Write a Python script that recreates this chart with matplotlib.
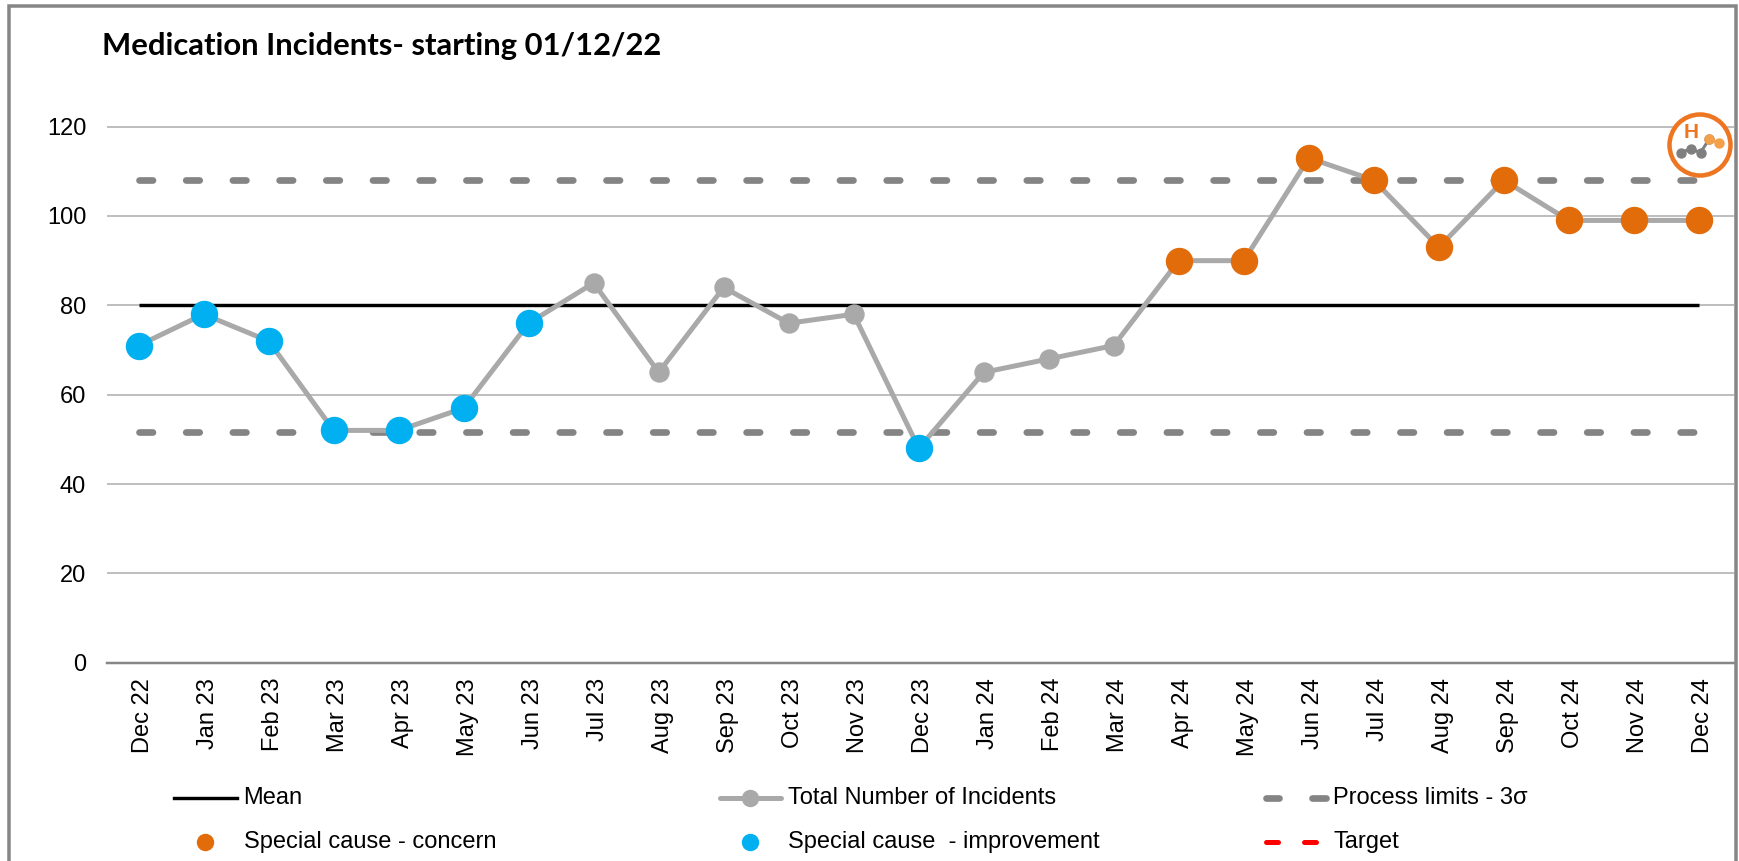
import matplotlib
matplotlib.use("Agg")
import matplotlib.pyplot as plt
from matplotlib.transforms import ScaledTranslation
import numpy as np

plt.rcParams['font.family'] = ['Liberation Sans', 'DejaVu Sans']
plt.rcParams['lines.scale_dashes'] = False

months = ['Dec 22','Jan 23','Feb 23','Mar 23','Apr 23','May 23','Jun 23','Jul 23','Aug 23','Sep 23',
          'Oct 23','Nov 23','Dec 23','Jan 24','Feb 24','Mar 24','Apr 24','May 24','Jun 24','Jul 24',
          'Aug 24','Sep 24','Oct 24','Nov 24','Dec 24']
incidents = [71,78,72,52,52,57,76,85,65,84,76,78,48,65,68,71,90,90,113,108,93,108,99,99,99]
improvement = ['Dec 22','Jan 23','Feb 23','Mar 23','Apr 23','May 23','Jun 23','Dec 23']
concern = ['Apr 24','May 24','Jun 24','Jul 24','Aug 24','Sep 24','Oct 24','Nov 24','Dec 24']
mean = 80
upper_limit = 108
lower_limit = 51.6
yticks = [0,20,40,60,80,100,120]

W, H = 1739, 861
px = 0.72  # one pixel in points at dpi 100
GREY_LINE = '#A9A9A9'
LIMIT = '#848484'
ORANGE = '#E36C0A'
BLUE = '#00B0F0'
limit_dash = (0, (13.5*px, 33.2*px))

fig = plt.figure(figsize=(W/100, H/100), dpi=100)

# main chart, placed in pixels
left, right, top, bottom = 107, 1734, 104.3, 662.7
ax = fig.add_axes([left/W, 1-bottom/H, (right-left)/W, (bottom-top)/H])
x = np.arange(len(months))
ax.plot(x, [mean]*len(x), color='black', lw=3.4*px, zorder=3, solid_capstyle='butt')
for lim in [upper_limit, lower_limit]:
    ax.plot(x, [lim]*len(x), color=LIMIT, lw=6.7*px, linestyle=limit_dash, dash_capstyle='round', zorder=2)
ax.plot(x, incidents, color=GREY_LINE, lw=5*px, marker='o', ms=19*px, zorder=4, solid_joinstyle='round')
for names, col in [(improvement, BLUE), (concern, ORANGE)]:
    idx = [months.index(n) for n in names]
    ax.plot(idx, [incidents[i] for i in idx], ls='none', marker='o', ms=26*px, color=col, zorder=5)

ax.set_xlim(-0.486, 24.54)
ax.set_ylim(0, 125)
ax.set_xticks(x)
ax.set_xticklabels(months, rotation=90, fontsize=17, color='black')
ax.set_yticks(yticks)
ax.tick_params(axis='y', length=0, pad=15, labelsize=17)
ax.tick_params(axis='x', length=0, pad=11)
# labels sit a little right of the tick in the original
shift = ScaledTranslation(4.5/100, 0, fig.dpi_scale_trans)
for lab in ax.get_xticklabels():
    lab.set_transform(lab.get_transform() + shift)
ax.grid(axis='y', color='#BFBFBF', lw=2*px)
ax.set_axisbelow(True)
for s in ['top','right','left']:
    ax.spines[s].set_visible(False)
ax.spines['bottom'].set_color('#868686')
ax.spines['bottom'].set_linewidth(2.5*px)

# overlay in pixel coordinates for frame, title, legend and badge
ov = fig.add_axes([0,0,1,1], facecolor='none')
ov.set_xlim(0, W)
ov.set_ylim(H, 0)
ov.axis('off')

ov.plot([9,9,1736,1736], [H,5.5,5.5,H], color='#868686', lw=3.5*px, solid_joinstyle='miter')
ov.text(102, 46, 'Medication Incidents- starting 01/12/22', family='Lato', fontweight='bold',
        fontsize=22.3, va='center', ha='left', color='black')

row1, row2 = 798, 842
fs = 17
ov.plot([174,237], [row1,row1], color='black', lw=3.4*px)
ov.text(243, row1, 'Mean', fontsize=fs, va='center')
ov.plot([205], [row2], 'o', color=ORANGE, ms=16*px)
ov.text(244, row2, 'Special cause - concern', fontsize=fs, va='center')
ov.plot([720,781], [row1,row1], color=GREY_LINE, lw=5*px, marker='none', solid_capstyle='round')
ov.plot([750], [row1], 'o', color=GREY_LINE, ms=16*px)
ov.text(788, row1, 'Total Number of Incidents', fontsize=fs, va='center')
ov.plot([750], [row2], 'o', color=BLUE, ms=16*px)
ov.text(788, row2, 'Special cause  - improvement', fontsize=fs, va='center')
for a, b in [(1266,1279), (1312,1326)]:
    ov.plot([a,b], [row1,row1], color=LIMIT, lw=6.7*px, solid_capstyle='round')
ov.text(1333, row1, 'Process limits - 3σ', fontsize=fs, va='center')
for a, b in [(1266,1278), (1304,1316)]:
    ov.plot([a,b], [row2,row2], color='#FF0000', lw=5*px, solid_capstyle='round')
ov.text(1334, row2, 'Target', fontsize=fs, va='center')

# H badge
ov.add_patch(plt.Circle((1700,145), 30.5, facecolor='white', edgecolor='#EE7623', lw=4.5*px, zorder=6))
ov.text(1691, 133, 'H', color='#EE7623', fontsize=15, fontweight='bold', ha='center', va='center', zorder=7)
ov.plot([1680.5,1691,1700.5,1709], [152.7,148.7,152.7,139.3], color='#7F7F7F', lw=3*px, marker='o', ms=9*px, zorder=7)
ov.plot([1709,1719], [139.3,142.7], color='#F4A04A', lw=3*px, marker='o', ms=9*px, zorder=8)

fig.savefig('out.png', dpi=100, facecolor='white')
